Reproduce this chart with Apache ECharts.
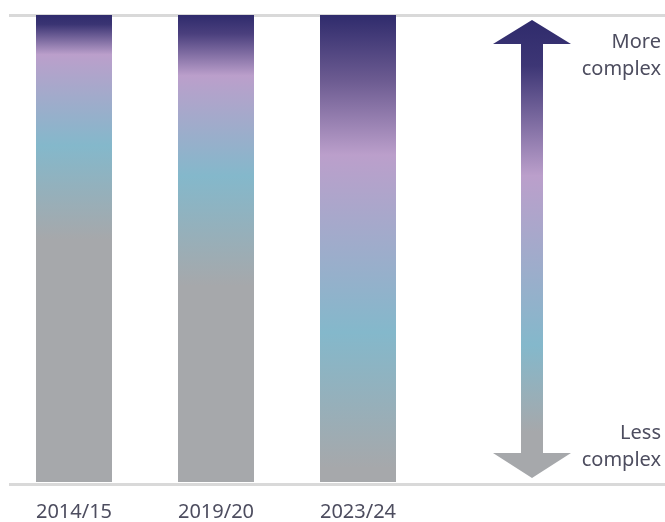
<!DOCTYPE html>
<html>
  <head>
    <meta charset="utf-8" />
    <title>Complexity</title>
    <script src="https://cdn.jsdelivr.net/npm/echarts@6/dist/echarts.min.js"></script>
    <style>
      html, body { margin: 0; padding: 0; background: #fff; }
    </style>
  </head>

  <body>
    <div id="main" style="width: 665px; height: 522px;"></div>
    <script type="text/javascript">
      // data
      const categories = ["2014/15", "2019/20", "2023/24"];
      const values = [100, 100, 100];
      const topLabel = ["More", "complex"];
      const bottomLabel = ["Less", "complex"];

      // colours
      const NAVY = "#2f2b6c";
      const LILAC = "#bb9fcb";
      const BLUE = "#84b8cb";
      const GREY = "#a6a8ab";
      const textColor = "#4d4d5f";
      const font = "'Noto Sans', sans-serif";

      // gradient stops per bar (top -> bottom)
      const barStops = [
        [[0, NAVY], [0.02, "#3a3473"], [0.085, LILAC], [0.28, BLUE], [0.48, GREY], [1, GREY]],
        [[0, NAVY], [0.04, "#4a3f7d"], [0.13, LILAC], [0.345, BLUE], [0.58, GREY], [1, GREY]],
        [[0, NAVY], [0.14, "#6c5b91"], [0.3, LILAC], [0.68, BLUE], [0.97, GREY], [1, GREY]],
      ];
      const arrowStops = [[0, NAVY], [0.1, "#3d3675"], [0.34, LILAC], [0.71, BLUE], [0.9, GREY], [1, GREY]];

      const grad = stops =>
        new echarts.graphic.LinearGradient(
          0, 0, 0, 1,
          stops.map(s => ({ offset: s[0], color: s[1] }))
        );

      const myChart = echarts.init(document.getElementById("main"));

      // arrow geometry
      const ax = 532, shaft = 11, head = 39;
      const yTop = 20, yHeadTop = 44, yHeadBot = 453, yBot = 478;

      // right-aligned side labels, one text element per line
      const sideText = (lines, y0) =>
        lines.map((t, i) => ({
          type: "text",
          x: 661,
          y: y0 + i * 27,
          style: {
            text: t,
            align: "right",
            verticalAlign: "middle",
            fill: textColor,
            font: "20px " + font,
          },
        }));

      const option = {
        animation: false,
        grid: [
          { left: 3, width: 426, top: 15, bottom: 38 },
          { left: 9, right: 0, top: 15, bottom: 38 },
        ],
        xAxis: [
          {
            type: "category",
            gridIndex: 0,
            data: categories,
            axisLine: { show: false },
            axisTick: { show: false },
            axisLabel: {
              color: textColor,
              fontSize: 20,
              fontFamily: font,
              margin: 20,
            },
          },
          { type: "value", gridIndex: 1, min: 0, max: 1, show: false },
        ],
        yAxis: [
          { type: "value", gridIndex: 0, min: 0, max: 100, show: false },
          {
            type: "value",
            gridIndex: 1,
            min: 0,
            max: 1,
            interval: 1,
            axisLabel: { show: false },
            axisLine: { show: false },
            axisTick: { show: false },
            splitLine: { lineStyle: { color: "#d9d9d9", width: 3 } },
          },
        ],
        series: [
          {
            type: "bar",
            xAxisIndex: 0,
            yAxisIndex: 0,
            barWidth: 76,
            z: 3,
            data: values.map((v, i) => ({
              value: v,
              itemStyle: { color: grad(barStops[i]) },
            })),
          },
        ],
        graphic: [
          {
            type: "polygon",
            z: 10,
            shape: {
              points: [
                [ax, yTop],
                [ax + head, yHeadTop],
                [ax + shaft, yHeadTop],
                [ax + shaft, yHeadBot],
                [ax + head, yHeadBot],
                [ax, yBot],
                [ax - head, yHeadBot],
                [ax - shaft, yHeadBot],
                [ax - shaft, yHeadTop],
                [ax - head, yHeadTop],
              ],
            },
            style: { fill: grad(arrowStops) },
          },
          ...sideText(topLabel, 42),
          ...sideText(bottomLabel, 433),
        ],
      };

      myChart.setOption(option);
    </script>
  </body>
</html>
